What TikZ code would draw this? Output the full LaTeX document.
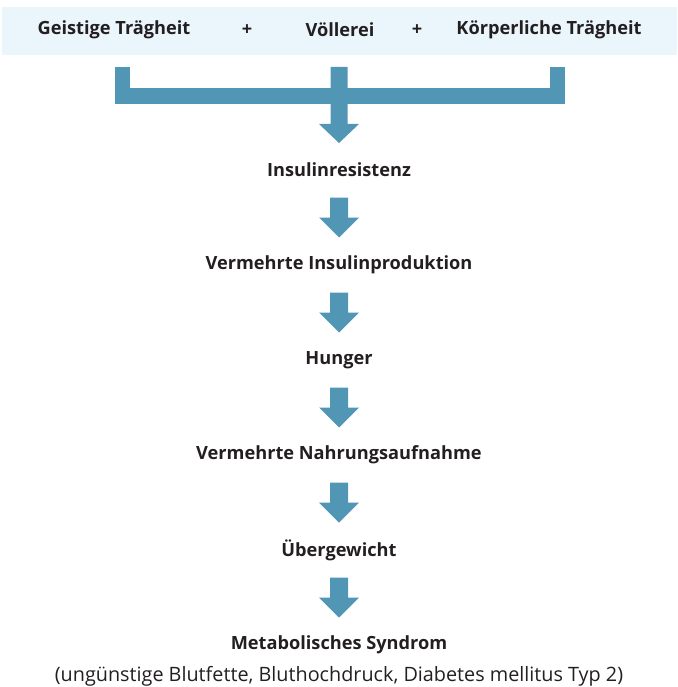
\documentclass[tikz,border=0pt]{standalone}
\usepackage{fontspec}
\setmainfont{Open Sans}
\usetikzlibrary{calc, positioning}
\definecolor{arrowblue}{RGB}{82,150,181}
\definecolor{bandblue}{RGB}{234,245,252}
\definecolor{textgray}{RGB}{35,31,32}
\tikzset{
    step label/.style={text=textgray, inner sep=0pt, font=\fontsize{18.2}{21}\selectfont\bfseries},
    sub label/.style={text=textgray, inner sep=0pt, font=\fontsize{19.8}{23}\selectfont},
    block/.style={fill=arrowblue, draw=none}
}
% block arrow half way between two nodes
\newcommand{\flowarrow}[2]{
    \fill[block] ($(#1)!0.5!(#2)$) ++(-9,-20) -- ++(18,0) -- ++(0,20) -- ++(11,0)
        -- ++(-20,20) -- ++(-20,-20) -- ++(11,0) -- cycle;
}

\begin{document}
\begin{tikzpicture}[x=1pt, y=-1pt]
    \useasboundingbox (0,0) rectangle (677,687);
    \def \mx {339}
    \def \dy {95}
    % band with the three causes
    \fill[bandblue] (2,7) rectangle (677,55);
    \node[step label] (geist) at (114,30) {Geistige Trägheit};
    \node[step label] (plus1) at (247,30) {+};
    \node[step label] (voell) at (340,30) {Völlerei};
    \node[step label] (plus2) at (417,30) {+};
    \node[step label] (koerp) at (549,30) {Körperliche Trägheit};
    % bracket
    \coordinate (bl) at (122,67);
    \coordinate (bm) at (\mx,67);
    \coordinate (br) at (557,67);
    \fill[block] ($(bl)+(-7.5,0)$) rectangle ($(bl)+(7.5,37)$);
    \fill[block] ($(br)+(-7.5,0)$) rectangle ($(br)+(7.5,37)$);
    \fill[block] ($(bl)+(-7.5,21)$) rectangle ($(br)+(7.5,37)$);
    \fill[block] ($(bm)+(-8.5,0)$) -- ++(17,0) -- ++(0,57) -- ++(11.5,0)
        -- ++(-20,19) -- ++(-20,-19) -- ++(11.5,0) -- cycle;
    % chain
    \node[step label] (insres) at (\mx,170) {Insulinresistenz};
    \node[step label] (insprod) at (\mx,170+\dy) {Vermehrte Insulinproduktion};
    \node[step label] (hunger) at (\mx,170+2*\dy) {Hunger};
    \node[step label] (nahrung) at (\mx,170+3*\dy) {Vermehrte Nahrungsaufnahme};
    \node[step label] (uebergew) at (\mx,170+4*\dy) {Übergewicht};
    \node[step label] (metsyn) at (\mx,170+5*\dy) {Metabolisches Syndrom};
    \node[sub label] (metsub) at (\mx,676) {(ungünstige Blutfette, Bluthochdruck, Diabetes mellitus Typ 2)};
    \flowarrow{insres}{insprod}
    \flowarrow{insprod}{hunger}
    \flowarrow{hunger}{nahrung}
    \flowarrow{nahrung}{uebergew}
    \flowarrow{uebergew}{metsyn}
\end{tikzpicture}
\end{document}
